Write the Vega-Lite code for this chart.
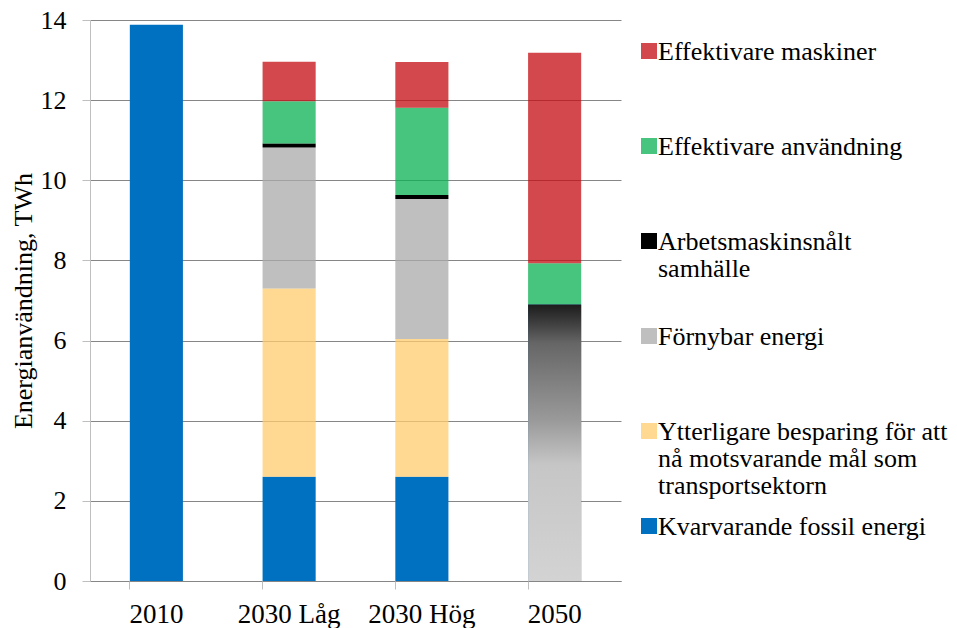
{
  "$schema": "https://vega.github.io/schema/vega-lite/v6.json",
  "autosize": "none",
  "width": 531,
  "height": 561,
  "padding": {"left": 90, "top": 20, "right": 336, "bottom": 47},
  "background": "white",
  "config": {
    "view": {"stroke": null},
    "font": "Liberation Serif",
    "style": {"guide-label": {"lineHeight": 27}},
    "axis": {"labelFont": "Liberation Serif", "titleFont": "Liberation Serif", "labelColor": "black", "titleColor": "black", "labelFontSize": 26, "titleFontSize": 26, "titleFontWeight": "normal"},
    "axisY": {"grid": true, "gridColor": "#868686", "gridWidth": 1, "domainColor": "#bfbfbf", "tickColor": "#bfbfbf", "tickSize": 8, "labelPadding": 16, "titlePadding": 4}
  },
  "data": {
    "values": [
      {"kategori": "2010", "serie": "Kvarvarande fossil energi", "ordning": 1, "varde": 13.88},
      {"kategori": "2030 Låg", "serie": "Kvarvarande fossil energi", "ordning": 1, "varde": 2.6},
      {"kategori": "2030 Låg", "serie": "Ytterligare besparing för att nå motsvarande mål som transportsektorn", "ordning": 2, "varde": 4.7},
      {"kategori": "2030 Låg", "serie": "Förnybar energi", "ordning": 3, "varde": 3.52},
      {"kategori": "2030 Låg", "serie": "Arbetsmaskinsnålt samhälle", "ordning": 4, "varde": 0.1},
      {"kategori": "2030 Låg", "serie": "Effektivare användning", "ordning": 5, "varde": 1.05},
      {"kategori": "2030 Låg", "serie": "Effektivare maskiner", "ordning": 6, "varde": 0.99},
      {"kategori": "2030 Hög", "serie": "Kvarvarande fossil energi", "ordning": 1, "varde": 2.6},
      {"kategori": "2030 Hög", "serie": "Ytterligare besparing för att nå motsvarande mål som transportsektorn", "ordning": 2, "varde": 3.44},
      {"kategori": "2030 Hög", "serie": "Förnybar energi", "ordning": 3, "varde": 3.49},
      {"kategori": "2030 Hög", "serie": "Arbetsmaskinsnålt samhälle", "ordning": 4, "varde": 0.1},
      {"kategori": "2030 Hög", "serie": "Effektivare användning", "ordning": 5, "varde": 2.18},
      {"kategori": "2030 Hög", "serie": "Effektivare maskiner", "ordning": 6, "varde": 1.14},
      {"kategori": "2050", "serie": "Kvarvarande fossil energi", "ordning": 1, "varde": 6.9},
      {"kategori": "2050", "serie": "Effektivare användning", "ordning": 5, "varde": 1.03},
      {"kategori": "2050", "serie": "Effektivare maskiner", "ordning": 6, "varde": 5.25}
    ]
  },
  "resolve": {"axis": {"x": "independent"}},
  "layer": [
    {
      "mark": {"type": "bar"},
      "encoding": {
        "x": {"field": "kategori", "type": "nominal", "sort": null,
              "scale": {"domain": ["2010", "2030 Låg", "2030 Hög", "2050"], "paddingInner": 0.6, "paddingOuter": 0.3},
              "axis": {"title": null, "labelAngle": 0, "ticks": false, "labelPadding": 20, "domainColor": "#868686", "grid": false, "labelFont": "Liberation Serif", "labelFontSize": 27}},
        "y": {"field": "varde", "type": "quantitative", "stack": "zero",
              "scale": {"domain": [0, 14], "nice": false},
              "axis": {"values": [0, 2, 4, 6, 8, 10, 12, 14], "labelFont": "Liberation Serif", "labelFontSize": 26},
              "title": "Energianvändning, TWh"},
        "order": {"field": "ordning", "type": "quantitative"},
        "color": {"field": "serie", "type": "nominal",
                  "scale": {"domain": ["Effektivare maskiner", "Effektivare användning", "Arbetsmaskinsnålt samhälle", "Förnybar energi", "Ytterligare besparing för att nå motsvarande mål som transportsektorn", "Kvarvarande fossil energi"],
                            "range": ["#C30B10", "#0AB053", "#000000", "#AAAAAA", "#FFCC6C", "#0070C0"]},
                  "legend": {"orient": "none", "legendX": 546, "legendY": 6, "title": null,
                             "symbolType": "M-1,0.5H1V2.5H-1Z", "symbolSize": 256, "symbolStrokeWidth": 0,
                             "labelFont": "Liberation Serif", "labelFontSize": 26, "labelColor": "black",
                             "labelBaseline": "top", "labelOffset": -4, "labelLimit": 0,
                             "gridAlign": "all", "rowPadding": 2, "padding": 0,
                             "labelExpr": "datum.label == 'Arbetsmaskinsnålt samhälle' ? ['Arbetsmaskinsnålt', 'samhälle'] : datum.label == 'Ytterligare besparing för att nå motsvarande mål som transportsektorn' ? ['Ytterligare besparing för att', 'nå motsvarande mål som', 'transportsektorn'] : datum.label"}},
        "opacity": {"field": "serie", "type": "nominal",
                    "scale": {"type": "ordinal", "domain": ["Effektivare maskiner", "Effektivare användning", "Arbetsmaskinsnålt samhälle", "Förnybar energi", "Ytterligare besparing för att nå motsvarande mål som transportsektorn", "Kvarvarande fossil energi"],
                              "range": [0.75, 0.75, 1, 0.75, 0.75, 1]}}
      }
    },
    {
      "transform": [{"filter": "datum.kategori == '2050' && datum.serie == 'Kvarvarande fossil energi'"}],
      "mark": {"type": "bar", "opacity": 1,
               "color": {"gradient": "linear", "x1": 0, "y1": 0, "x2": 0, "y2": 1,
                         "stops": [
                           {"offset": 0, "color": "#1c1c1c"},
                           {"offset": 0.07, "color": "#404040"},
                           {"offset": 0.14, "color": "#666666"},
                           {"offset": 0.42, "color": "#9a9a9a"},
                           {"offset": 0.58, "color": "#c6c6c6"},
                           {"offset": 1, "color": "#d3d3d3"}]}},
      "encoding": {
        "x": {"field": "kategori", "type": "nominal", "sort": null,
              "axis": {"title": null, "orient": "bottom", "labels": false, "ticks": true, "tickSize": 8, "tickColor": "#bfbfbf", "bandPosition": 0, "domain": false, "grid": false}},
        "y": {"field": "varde", "type": "quantitative", "stack": "zero", "title": "Energianvändning, TWh"}
      }
    }
  ]
}
